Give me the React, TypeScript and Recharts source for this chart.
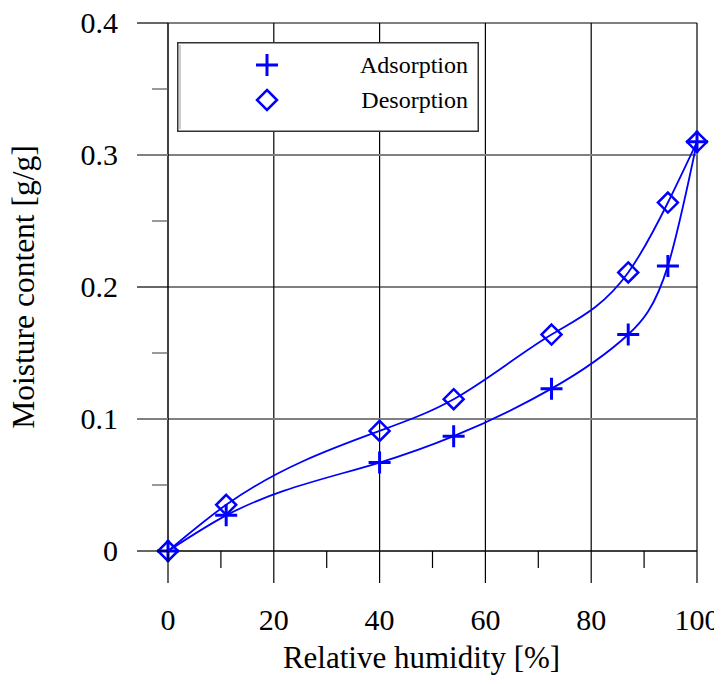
import { Line, LineChart, ReferenceLine, XAxis, YAxis } from "recharts";

const humidity = [0, 11, 40, 54, 72.5, 87, 94.5, 100];
const adsorption = [0, 0.027, 0.067, 0.087, 0.123, 0.164, 0.216, 0.31];
const desorption = [0, 0.035, 0.091, 0.115, 0.164, 0.211, 0.264, 0.31];

const xTicks = [0, 10, 20, 30, 40, 50, 60, 70, 80, 90, 100];
const yTicks = [0, 0.05, 0.1, 0.15, 0.2, 0.25, 0.3, 0.35, 0.4];
const xGrid = [20, 40, 60, 80, 100];
const yGrid = [0.1, 0.2, 0.3, 0.4];

const seriesNames = ["Adsorption", "Desorption"];

const data = humidity.map((h, i) => ({
  h,
  ads: adsorption[i],
  des: desorption[i],
}));

const BLUE = "#0000ff";
const GRAY = "#808080";
const FONT = "'Liberation Serif', 'Times New Roman', serif";

// 0.1 and 0.3 lines are drawn gray in the original, the rest black
const yLineColor = (v: number) => (Math.round(v * 10) % 2 === 1 ? GRAY : "#000");
const yLineWidth = (v: number) => (Math.round(v * 10) % 2 === 1 ? 2 : 1.2);

// natural cubic spline y(x), handed to recharts as a d3-style curve factory
function splineCurve(context: any) {
  let xs: number[] = [];
  let ys: number[] = [];
  return {
    areaStart() {},
    areaEnd() {},
    lineStart() {
      xs = [];
      ys = [];
    },
    point(x: number, y: number) {
      xs.push(+x);
      ys.push(+y);
    },
    lineEnd() {
      const n = xs.length;
      if (!n) return;
      context.moveTo(xs[0], ys[0]);
      if (n === 2) context.lineTo(xs[1], ys[1]);
      if (n < 3) return;
      const h = xs.slice(1).map((x, i) => x - xs[i]);
      const m = new Array(n).fill(0);
      // tridiagonal solve for second derivatives, natural ends
      const a: number[] = [], b: number[] = [], c: number[] = [], d: number[] = [];
      for (let i = 1; i < n - 1; i++) {
        a.push(h[i - 1]);
        b.push(2 * (h[i - 1] + h[i]));
        c.push(h[i]);
        d.push(6 * ((ys[i + 1] - ys[i]) / h[i] - (ys[i] - ys[i - 1]) / h[i - 1]));
      }
      const k = b.length;
      for (let i = 1; i < k; i++) {
        const w = a[i] / b[i - 1];
        b[i] -= w * c[i - 1];
        d[i] -= w * d[i - 1];
      }
      const sol = new Array(k).fill(0);
      for (let i = k - 1; i >= 0; i--) {
        sol[i] = (d[i] - (i < k - 1 ? c[i] * sol[i + 1] : 0)) / b[i];
      }
      for (let i = 0; i < k; i++) m[i + 1] = sol[i];
      for (let i = 0; i < n - 1; i++) {
        const hi = h[i];
        const s = (ys[i + 1] - ys[i]) / hi;
        const d0 = s - (hi * (2 * m[i] + m[i + 1])) / 6;
        const d1 = s + (hi * (m[i] + 2 * m[i + 1])) / 6;
        context.bezierCurveTo(
          xs[i] + hi / 3,
          ys[i] + (hi / 3) * d0,
          xs[i + 1] - hi / 3,
          ys[i + 1] - (hi / 3) * d1,
          xs[i + 1],
          ys[i + 1],
        );
      }
    },
  };
}

function XTick({ x, y, payload }: any) {
  const v = payload.value;
  const major = v % 20 === 0;
  return (
    <g>
      <line x1={x} x2={x} y1={y} y2={y + (major ? 32 : 17)} stroke="#000" strokeWidth={1.2} />
      {major && (
        <text x={x} y={y + 79} textAnchor="middle" fontFamily={FONT} fontSize={30} fill="#000">
          {v}
        </text>
      )}
    </g>
  );
}

function YTick({ x, y, payload }: any) {
  const v = payload.value;
  const major = Math.round(v * 100) % 10 === 0;
  if (!major) {
    return <line x1={x - 16} x2={x} y1={y} y2={y} stroke="#555" strokeWidth={1.2} />;
  }
  return (
    <g>
      <line x1={x - 31} x2={x} y1={y} y2={y} stroke={yLineColor(v)} strokeWidth={yLineWidth(v)} />
      <text x={x - 50} y={y + 10} textAnchor="end" fontFamily={FONT} fontSize={30} fill="#000">
        {String(Math.round(v * 10) / 10)}
      </text>
    </g>
  );
}

function XLabel({ viewBox }: any) {
  return (
    <text
      x={viewBox.x + viewBox.width / 2 - 11}
      y={viewBox.y + 117}
      textAnchor="middle"
      fontFamily={FONT}
      fontSize={31}
      fill="#000"
    >
      Relative humidity [%]
    </text>
  );
}

function YLabel({ viewBox }: any) {
  const cy = viewBox.y + viewBox.height / 2;
  return (
    <text
      transform={`translate(34,${cy}) rotate(-90)`}
      textAnchor="middle"
      fontFamily={FONT}
      fontSize={31.5}
      fill="#000"
    >
      Moisture content [g/g]
    </text>
  );
}

function plusPath(cx: number, cy: number, r: number) {
  return `M${cx - r},${cy}H${cx + r}M${cx},${cy - r}V${cy + r}`;
}

function diamondPath(cx: number, cy: number, r: number) {
  return `M${cx},${cy - r}L${cx + r},${cy}L${cx},${cy + r}L${cx - r},${cy}Z`;
}

const PlusDot = (props: any) => (
  <path key={`p${props.index}`} d={plusPath(props.cx, props.cy, 11)} stroke={BLUE} strokeWidth={3} fill="none" />
);

const DiamondDot = (props: any) => (
  <path key={`d${props.index}`} d={diamondPath(props.cx, props.cy, 10)} stroke={BLUE} strokeWidth={2.5} fill="none" />
);

function LegendBox() {
  return (
    <svg
      width={302}
      height={90}
      style={{ position: "absolute", left: 177, top: 42, overflow: "visible" }}
    >
      <rect x={0.75} y={0.75} width={300.5} height={88.5} fill="#fff" stroke="#333" strokeWidth={1.5} />
      <line x1={3} x2={3} y1={3} y2={87} stroke="#bbb" strokeWidth={1.5} />
      <path d={plusPath(90, 23, 11)} stroke={BLUE} strokeWidth={3} fill="none" />
      <text x={291} y={31} textAnchor="end" fontFamily={FONT} fontSize={24} fill="#000">
        {seriesNames[0]}
      </text>
      <path d={diamondPath(90, 58, 10)} stroke={BLUE} strokeWidth={2.5} fill="none" />
      <text x={291} y={66} textAnchor="end" fontFamily={FONT} fontSize={24} fill="#000">
        {seriesNames[1]}
      </text>
    </svg>
  );
}

export default function App() {
  return (
    <div style={{ position: "relative", width: 722, height: 684, margin: -8, background: "#fff" }}>
      <LineChart
        width={722}
        height={684}
        data={data}
        margin={{ top: 23, right: 25, left: 0, bottom: 0 }}
      >
        <XAxis
          dataKey="h"
          type="number"
          domain={[0, 100]}
          ticks={xTicks}
          interval={0}
          tickSize={0}
          tickMargin={0}
          tickLine={false}
          tick={<XTick />}
          axisLine={{ stroke: "#000", strokeWidth: 1.5 }}
          height={133}
          label={<XLabel />}
        />
        <YAxis
          type="number"
          domain={[0, 0.4]}
          ticks={yTicks}
          interval={0}
          tickSize={0}
          tickMargin={0}
          tickLine={false}
          tick={<YTick />}
          axisLine={{ stroke: "#000", strokeWidth: 1.5 }}
          width={168}
          label={<YLabel />}
        />
        {xGrid.map((v) => (
          <ReferenceLine key={`x${v}`} x={v} stroke="#000" strokeWidth={1.2} />
        ))}
        {yGrid.map((v) => (
          <ReferenceLine key={`y${v}`} y={v} stroke={yLineColor(v)} strokeWidth={yLineWidth(v)} />
        ))}
        <Line
          type={splineCurve as any}
          dataKey="ads"
          name={seriesNames[0]}
          stroke={BLUE}
          strokeWidth={1.8}
          dot={PlusDot}
          activeDot={false}
          isAnimationActive={false}
        />
        <Line
          type={splineCurve as any}
          dataKey="des"
          name={seriesNames[1]}
          stroke={BLUE}
          strokeWidth={1.8}
          dot={DiamondDot}
          activeDot={false}
          isAnimationActive={false}
        />
      </LineChart>
      <LegendBox />
    </div>
  );
}
